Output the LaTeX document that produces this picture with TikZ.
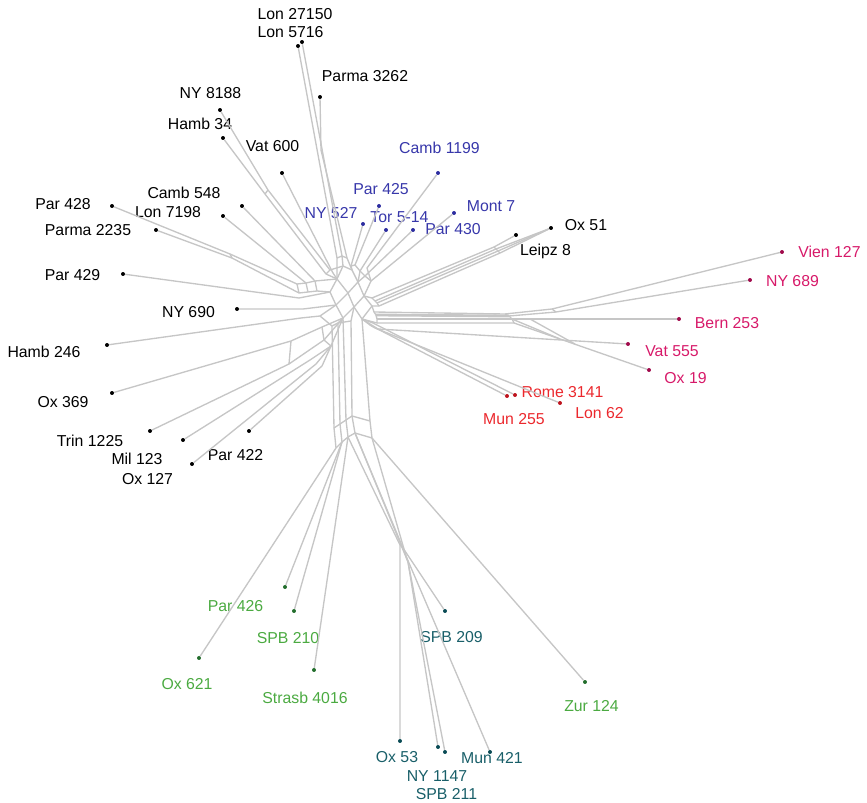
\documentclass[tikz,border=0pt]{standalone}
\usepackage{fontspec}
\setmainfont{Liberation Sans}
\definecolor{splitgray}{RGB}{198,198,198}
\definecolor{txblue}{RGB}{55,55,170}
\definecolor{txpink}{RGB}{215,25,105}
\definecolor{txred}{RGB}{235,40,45}
\definecolor{txgreen}{RGB}{75,170,65}
\definecolor{txteal}{RGB}{25,95,105}
\definecolor{dotblue}{RGB}{45,45,160}
\definecolor{dotpink}{RGB}{160,10,75}
\definecolor{dotred}{RGB}{190,20,30}
\definecolor{dotgreen}{RGB}{35,110,45}
\definecolor{dotteal}{RGB}{10,75,85}

\begin{document}
\begin{tikzpicture}[x=0.3mm,y=-0.3mm,
  split/.style={draw=splitgray,line width=1.15pt,line join=round},
  leaf/.style={circle,fill=#1,inner sep=0pt,minimum size=3.4pt},
  lbl/.style={text=#1,font=\fontsize{13.5}{16}\selectfont,inner sep=0pt,text height=9.7pt,text depth=0pt}]
  \useasboundingbox (0,0) rectangle (867,803);

  % leaves
  \node[leaf=black] (lonA) at (302,42) {};
  \node[leaf=black] (lonB) at (298,46) {};
  \node[leaf=black] (parmaA) at (320,97) {};
  \node[leaf=black] (ny8188) at (220,110) {};
  \node[leaf=black] (hamb34) at (223,138) {};
  \node[leaf=black] (vat600) at (282,173) {};
  \node[leaf=black] (camb548) at (242,206) {};
  \node[leaf=black] (lon7198) at (223,216) {};
  \node[leaf=black] (par428) at (112,206) {};
  \node[leaf=black] (parma2235) at (156,230) {};
  \node[leaf=dotblue] (ny527) at (363,224) {};
  \node[leaf=dotblue] (par425) at (379,206) {};
  \node[leaf=dotblue] (tor514) at (386,230) {};
  \node[leaf=dotblue] (par430) at (413,230) {};
  \node[leaf=dotblue] (camb1199) at (438,173) {};
  \node[leaf=dotblue] (mont7) at (454,213) {};
  \node[leaf=black] (ox51) at (551,228) {};
  \node[leaf=black] (leipz8) at (516,235) {};
  \node[leaf=dotpink] (vien127) at (782,252) {};
  \node[leaf=dotpink] (ny689) at (750,280) {};
  \node[leaf=dotpink] (bern253) at (679,319) {};
  \node[leaf=dotpink] (vat555) at (628,344) {};
  \node[leaf=dotpink] (ox19) at (649,370) {};
  \node[leaf=dotred] (rome3141) at (515,395) {};
  \node[leaf=dotred] (mun255) at (507,396) {};
  \node[leaf=dotred] (lon62) at (560,403) {};
  \node[leaf=black] (par429) at (123,274) {};
  \node[leaf=black] (ny690) at (237,309) {};
  \node[leaf=black] (hamb246) at (107,345) {};
  \node[leaf=black] (ox369) at (112,393) {};
  \node[leaf=black] (trin1225) at (150,431) {};
  \node[leaf=black] (mil123) at (183,440) {};
  \node[leaf=black] (par422) at (249,431) {};
  \node[leaf=black] (ox127) at (192,464) {};
  \node[leaf=dotgreen] (par426) at (285,587) {};
  \node[leaf=dotgreen] (spb210) at (294,611) {};
  \node[leaf=dotgreen] (ox621) at (199,658) {};
  \node[leaf=dotgreen] (strasb4016) at (314,670) {};
  \node[leaf=dotgreen] (zur124) at (585,682) {};
  \node[leaf=dotteal] (spb209) at (445,611) {};
  \node[leaf=dotteal] (ox53) at (400,741) {};
  \node[leaf=dotteal] (ny1147) at (438,747) {};
  \node[leaf=dotteal] (spb211) at (445,752) {};
  \node[leaf=dotteal] (mun421) at (490,752) {};

  % labels
  \node[lbl=black] (lonA-t) at (295,14) {Lon 27150};
  \node[lbl=black] (lonB-t) at (290.5,32) {Lon 5716};
  \node[lbl=black] (parmaA-t) at (365,76) {Parma 3262};
  \node[lbl=black] (ny8188-t) at (210.5,93) {NY 8188};
  \node[lbl=black] (hamb34-t) at (200,124) {Hamb 34};
  \node[lbl=black] (vat600-t) at (272.5,146) {Vat 600};
  \node[lbl=black] (camb548-t) at (184,193) {Camb 548};
  \node[lbl=black] (lon7198-t) at (168,212) {Lon 7198};
  \node[lbl=black] (par428-t) at (63,204) {Par 428};
  \node[lbl=black] (parma2235-t) at (88,230) {Parma 2235};
  \node[lbl=txblue] (ny527-t) at (331,213) {NY 527};
  \node[lbl=txblue] (par425-t) at (381,189) {Par 425};
  \node[lbl=txblue] (tor514-t) at (399.5,217) {Tor 5-14};
  \node[lbl=txblue] (par430-t) at (453,229) {Par 430};
  \node[lbl=txblue] (camb1199-t) at (439.5,148) {Camb 1199};
  \node[lbl=txblue] (mont7-t) at (491,206) {Mont 7};
  \node[lbl=black] (ox51-t) at (586,225) {Ox 51};
  \node[lbl=black] (leipz8-t) at (545.5,250) {Leipz 8};
  \node[lbl=txpink] (vien127-t) at (829.5,252) {Vien 127};
  \node[lbl=txpink] (ny689-t) at (792.5,281) {NY 689};
  \node[lbl=txpink] (bern253-t) at (727,323) {Bern 253};
  \node[lbl=txpink] (vat555-t) at (672,351) {Vat 555};
  \node[lbl=txpink] (ox19-t) at (685.5,378) {Ox 19};
  \node[lbl=txred] (rome3141-t) at (562.5,392) {Rome 3141};
  \node[lbl=txred] (mun255-t) at (514,419) {Mun 255};
  \node[lbl=txred] (lon62-t) at (599.5,413) {Lon 62};
  \node[lbl=black] (par429-t) at (72.5,275) {Par 429};
  \node[lbl=black] (ny690-t) at (188.5,312) {NY 690};
  \node[lbl=black] (hamb246-t) at (44,352) {Hamb 246};
  \node[lbl=black] (ox369-t) at (63,402) {Ox 369};
  \node[lbl=black] (trin1225-t) at (90,441) {Trin 1225};
  \node[lbl=black] (mil123-t) at (137,459) {Mil 123};
  \node[lbl=black] (par422-t) at (235.5,455) {Par 422};
  \node[lbl=black] (ox127-t) at (147.5,479) {Ox 127};
  \node[lbl=txgreen] (par426-t) at (235.5,606) {Par 426};
  \node[lbl=txgreen] (spb210-t) at (288,638) {SPB 210};
  \node[lbl=txgreen] (ox621-t) at (187,684) {Ox 621};
  \node[lbl=txgreen] (strasb4016-t) at (305,698) {Strasb 4016};
  \node[lbl=txgreen] (zur124-t) at (591.5,706) {Zur 124};
  \node[lbl=txteal] (spb209-t) at (451.5,637) {SPB 209};
  \node[lbl=txteal] (ox53-t) at (397,757) {Ox 53};
  \node[lbl=txteal] (ny1147-t) at (437,776) {NY 1147};
  \node[lbl=txteal] (spb211-t) at (446.5,794) {SPB 211};
  \node[lbl=txteal] (mun421-t) at (492,758) {Mun 421};

  % core of the network
  \coordinate (k1) at (343,266);
  \coordinate (k2) at (352,270);
  \coordinate (k3) at (337,279);
  \coordinate (k4) at (358,282);
  \coordinate (k5) at (330,292);
  \coordinate (k6) at (348,293);
  \coordinate (k7) at (364,296);
  \coordinate (k8) at (336,305);
  \coordinate (k9) at (354,307);
  \coordinate (k10) at (372,306);
  \coordinate (k11) at (343,318);
  \coordinate (k12) at (362,319);
  \draw[split] (k1) -- (k2) -- (k4) -- (k7) -- (k10) -- (k12);
  \draw[split] (k1) -- (k3) -- (k5) -- (k8) -- (k11);
  \draw[split] (k3) -- (k6) -- (k9) -- (k12);
  \draw[split] (k4) -- (k6) -- (k8);
  \draw[split] (k7) -- (k9) -- (k11);

  % top
  \coordinate (t1) at (342,256);
  \coordinate (t2) at (337,258);
  \coordinate (t3) at (321,150);
  \coordinate (t4) at (347,258);
  \draw[split] (lonA) -- (t1) -- (k1);
  \draw[split] (lonB) -- (t2) -- (k3);
  \draw[split] (parmaA) -- (t3) -- (t4) -- (k2);
  \draw[split] (t2) -- (t1) -- (t4);

  % upper left
  \coordinate (u1) at (268,190);
  \coordinate (u2) at (265,194);
  \coordinate (u3) at (330,270);
  \coordinate (u4) at (326,274);
  \coordinate (u5) at (333,273);
  \coordinate (u6) at (230,254);
  \coordinate (u7) at (232,258);
  \coordinate (r1) at (297,284);
  \coordinate (r2) at (306,283);
  \coordinate (r3) at (315,281);
  \coordinate (r4) at (299,293);
  \coordinate (r5) at (308,292);
  \coordinate (r6) at (317,291);
  \draw[split] (ny8188) -- (u1) -- (u3) -- (k1);
  \draw[split] (hamb34) -- (u2) -- (u4) -- (k3);
  \draw[split] (u1) -- (u2);
  \draw[split] (u3) -- (u4);
  \draw[split] (vat600) -- (u5) -- (k3);
  \draw[split] (par428) -- (u6) -- (r1) -- (r2) -- (r3) -- (k3);
  \draw[split] (parma2235) -- (u7) -- (r4) -- (r5) -- (r6) -- (k5);
  \draw[split] (u6) -- (u7);
  \draw[split] (r1) -- (r4);
  \draw[split] (r2) -- (r5);
  \draw[split] (r3) -- (r6);
  \draw[split] (lon7198) -- (r2);
  \draw[split] (camb548) -- (r3);

  % lower left
  \coordinate (l1) at (299,298);
  \coordinate (l2) at (303,309);
  \coordinate (l3) at (301,318);
  \coordinate (l4) at (291,341);
  \coordinate (l5) at (289,364);
  \coordinate (l6) at (310,360);
  \coordinate (l7) at (316,364);
  \coordinate (l8) at (322,366);
  \coordinate (m1) at (320,316);
  \coordinate (m2) at (322,327);
  \coordinate (m3) at (324,340);
  \coordinate (m4) at (331,346);
  \draw[split] (par429) -- (l1) -- (k5);
  \draw[split] (ny690) -- (l2) -- (k8);
  \draw[split] (hamb246) -- (l3) -- (m1) -- (k8);
  \draw[split] (ox369) -- (l4) -- (m2) -- (k11);
  \draw[split] (trin1225) -- (l5) -- (m3) -- (k11);
  \draw[split] (l4) -- (l5);
  \draw[split] (m2) -- (m3) -- (m4);
  \draw[split] (mil123) -- (l6) -- (m4);
  \draw[split] (ox127) -- (l7) -- (m4);
  \draw[split] (par422) -- (l8) -- (m4) -- (k11);

  % bottom stem
  \coordinate (v1) at (332,326);
  \coordinate (v2) at (338,323);
  \coordinate (v4) at (351,321);
  \coordinate (p1) at (334,428);
  \coordinate (p2) at (340,424);
  \coordinate (p3) at (346,420);
  \coordinate (p4) at (352,416);
  \coordinate (p5) at (370,421);
  \coordinate (p6) at (336,448);
  \coordinate (p7) at (342,442);
  \coordinate (p8) at (348,437);
  \coordinate (p9) at (355,433);
  \coordinate (p10) at (372,438);
  \draw[split] (m1) -- (v1) -- (p1);
  \draw[split] (k11) -- (v2) -- (p2);
  \draw[split] (k11) -- (p3);
  \draw[split] (k9) -- (v4) -- (p4);
  \draw[split] (k12) -- (p5);
  \draw[split] (v1) -- (v2) -- (v4);
  \draw[split] (p1) -- (p2) -- (p3) -- (p4) -- (p5);
  \draw[split] (p6) -- (p7) -- (p8) -- (p9) -- (p10);
  \draw[split] (p1) -- (p6);
  \draw[split] (p2) -- (p7);
  \draw[split] (p3) -- (p8);
  \draw[split] (p4) -- (p9);
  \draw[split] (p5) -- (p10);
  \draw[split] (ox621) -- (p6);
  \draw[split] (par426) -- (p7);
  \draw[split] (spb210) -- (p7);
  \draw[split] (strasb4016) -- (p8);
  \draw[split] (zur124) -- (p10);

  % bottom right
  \coordinate (s1) at (400,545);
  \coordinate (s2) at (403,548);
  \coordinate (s3) at (406,556);
  \coordinate (s4) at (408,562);
  \draw[split] (p8) -- (s1) -- (ox53);
  \draw[split] (p9) -- (s2) -- (spb209);
  \draw[split] (p10) -- (s3) -- (mun421);
  \draw[split] (p9) -- (s4) -- (ny1147);
  \draw[split] (s4) -- (spb211);
  \draw[split] (s1) -- (s2) -- (s3) -- (s4);

  % blue group
  \coordinate (g1) at (351,266);
  \coordinate (g2) at (355,265);
  \coordinate (g3) at (360,271);
  \coordinate (g4) at (365,276);
  \coordinate (g5) at (367,268);
  \coordinate (g6) at (371,281);
  \draw[split] (ny527) -- (g1) -- (k2);
  \draw[split] (par425) -- (g2) -- (g3) -- (k4);
  \draw[split] (tor514) -- (g3);
  \draw[split] (par430) -- (g4) -- (k4);
  \draw[split] (camb1199) -- (g5) -- (g6) -- (k7);
  \draw[split] (mont7) -- (g6);
  \draw[split] (g1) -- (g2);
  \draw[split] (g3) -- (g4) -- (g6);

  % Ox 51 and Leipz 8
  \coordinate (o1) at (372,298);
  \coordinate (o2) at (375,301);
  \coordinate (o3) at (377,303);
  \coordinate (o7) at (379,306);
  \coordinate (o4) at (494,247);
  \coordinate (o5) at (496,249);
  \coordinate (o6) at (498,251);
  \coordinate (o8) at (500,253);
  \draw[split] (k7) -- (o1) -- (o4) -- (leipz8);
  \draw[split] (k10) -- (o7) -- (o8) -- (ox51);
  \draw[split] (o2) -- (o5) -- (ox51);
  \draw[split] (o3) -- (o6) -- (ox51);
  \draw[split] (o1) -- (o2) -- (o3) -- (o7);
  \draw[split] (o4) -- (o5) -- (o6) -- (o8);

  % pink group
  \coordinate (e1) at (374,312);
  \coordinate (e2) at (376,315);
  \coordinate (e3) at (377,319);
  \coordinate (e4) at (377,323);
  \coordinate (e5) at (378,329);
  \coordinate (f1) at (505,314);
  \coordinate (f2) at (509,316);
  \coordinate (f3) at (512,319);
  \coordinate (f4) at (514,323);
  \coordinate (n1) at (552,309);
  \coordinate (n2) at (556,312);
  \coordinate (n3) at (560,339);
  \coordinate (n4) at (530,319);
  \coordinate (n5) at (575,344);
  \draw[split] (k10) -- (e1) -- (e2) -- (e3) -- (e4) -- (k12);
  \draw[split] (e1) -- (f1) -- (n1) -- (vien127);
  \draw[split] (e2) -- (f2) -- (n2) -- (ny689);
  \draw[split] (e3) -- (f3) -- (bern253);
  \draw[split] (e4) -- (f4) -- (n3) -- (ox19);
  \draw[split,line width=2.4pt] (e2) -- (f2);
  \draw[split,line width=2.4pt] (e3) -- (f3);
  \draw[split] (f1) -- (f2) -- (f3) -- (f4);
  \draw[split] (n1) -- (n2);
  \draw[split] (f3) -- (n3);
  \draw[split] (n4) -- (n5);
  \draw[split] (k12) -- (e5) -- (vat555);

  % red group
  \coordinate (d1) at (370,325);
  \coordinate (d2) at (373,323);
  \coordinate (d3) at (375,328);
  \draw[split] (k12) -- (d1) -- (mun255);
  \draw[split] (k12) -- (d2) -- (rome3141);
  \draw[split] (d1) -- (d3) -- (lon62);
\end{tikzpicture}
\end{document}
